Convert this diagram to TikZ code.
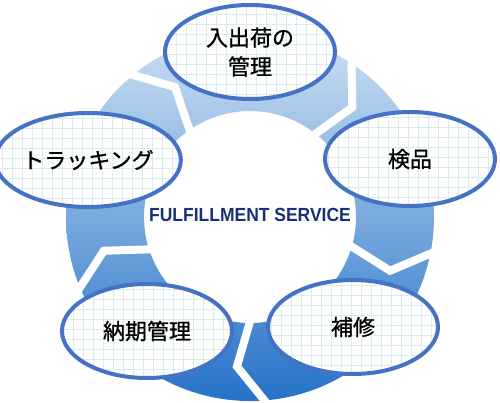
\documentclass[tikz,border=0pt]{standalone}
\usepackage{fontspec}
\newfontfamily\jpfont[FakeBold=0.9]{Noto Sans CJK JP}
\newfontfamily\labelfont[FakeStretch=0.92]{Liberation Sans}
\usetikzlibrary{shapes.geometric}
\definecolor{ringtop}{RGB}{204,224,243}
\definecolor{ringbottom}{RGB}{38,114,200}
\definecolor{rimblue}{RGB}{68,114,196}
\definecolor{gridcyan}{RGB}{216,236,238}
\definecolor{titlenavy}{RGB}{22,48,122}
\begin{document}
\begin{tikzpicture}[x=1pt,y=-1pt]
        \tikzstyle{stage}=[ellipse,draw=rimblue,line width=4pt,fill=white,inner sep=0pt,
            minimum width=170pt,minimum height=94pt,align=center,
            font=\jpfont\fontsize{22}{29}\selectfont,
            path picture={\draw[gridcyan,line width=0.8pt] (path picture bounding box.south west) grid[step=10pt] (path picture bounding box.north east);}]
        \tikzstyle{gap}=[white,line width=8pt,line join=miter]
        \useasboundingbox (0,0) rectangle (500,403);
        % ring of arrows, clockwise
        \begin{scope}[shift={(250,217)},y=1pt]
            \shade[top color=ringtop,bottom color=ringbottom,even odd rule] (0,0) circle (184) (0,0) circle (106);
            \foreach \a in {56,-12,-86,-158,129}
                \draw[gap] (\a+2.5:194) -- (\a-9:150) -- (\a-2.5:96);
        \end{scope}
        \node[stage] (inout) at (250,52) {入出荷の\\管理};
        \node[stage] (check) at (410,159) {検品};
        \node[stage] (repair) at (353,327) {補修};
        \node[stage] (deliver) at (147,331) {納期管理};
        \node[stage] (track) at (88,160) {トラッキング};
        \node[font=\labelfont\bfseries\fontsize{19}{19}\selectfont,text=titlenavy] (title) at (250,215) {FULFILLMENT SERVICE};
\end{tikzpicture}
\end{document}
